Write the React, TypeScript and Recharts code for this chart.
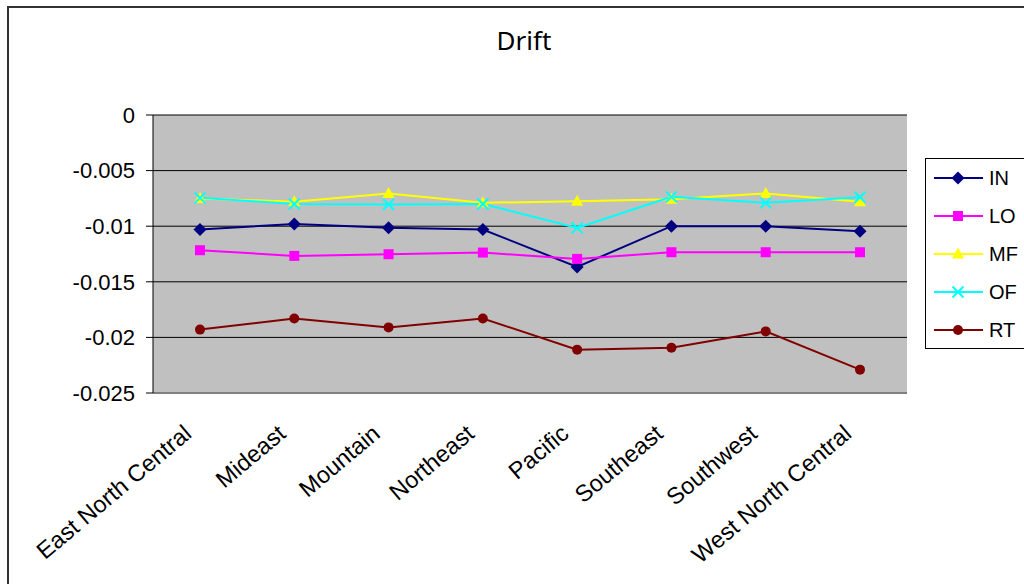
import { LineChart, Line, XAxis, YAxis, CartesianGrid } from 'recharts'

const regions = [
  'East North Central',
  'Mideast',
  'Mountain',
  'Northeast',
  'Pacific',
  'Southeast',
  'Southwest',
  'West North Central',
]

const inDrift = [-0.0103, -0.0098, -0.01015, -0.0103, -0.01366, -0.01, -0.01, -0.01045]
const loDrift = [-0.01216, -0.01267, -0.01252, -0.01237, -0.01294, -0.01234, -0.01234, -0.01234]
const mfDrift = [-0.0075, -0.0078, -0.00706, -0.0079, -0.00775, -0.00757, -0.00706, -0.0078]
const ofDrift = [-0.00745, -0.008, -0.00805, -0.008, -0.01015, -0.00736, -0.0079, -0.0074]
const rtDrift = [-0.0193, -0.0183, -0.0191, -0.0183, -0.0211, -0.02093, -0.01946, -0.0229]

const yTicks = [0, -0.005, -0.01, -0.015, -0.02, -0.025]

type Shape = 'diamond' | 'square' | 'triangle' | 'cross' | 'circle'

const series: { key: string; color: string; shape: Shape }[] = [
  { key: 'IN', color: '#000080', shape: 'diamond' },
  { key: 'LO', color: '#FF00FF', shape: 'square' },
  { key: 'MF', color: '#FFFF00', shape: 'triangle' },
  { key: 'OF', color: '#00FFFF', shape: 'cross' },
  { key: 'RT', color: '#800000', shape: 'circle' },
]

const data = regions.map((region, i) => ({
  region,
  IN: inDrift[i],
  LO: loDrift[i],
  MF: mfDrift[i],
  OF: ofDrift[i],
  RT: rtDrift[i],
}))

const FONT = '"Liberation Sans", Arial, sans-serif'

function marker(shape: Shape, color: string, cx: number, cy: number, key?: string | number) {
  switch (shape) {
    case 'diamond':
      return (
        <polygon key={key} points={`${cx},${cy - 6.5} ${cx + 6.5},${cy} ${cx},${cy + 6.5} ${cx - 6.5},${cy}`} fill={color} />
      )
    case 'square':
      return <rect key={key} x={cx - 5} y={cy - 5} width={10} height={10} fill={color} />
    case 'triangle':
      return (
        <polygon key={key} points={`${cx},${cy - 6.5} ${cx + 6},${cy + 4.5} ${cx - 6},${cy + 4.5}`} fill={color} />
      )
    case 'cross':
      return (
        <g key={key} stroke={color} strokeWidth={2}>
          <line x1={cx - 5.5} y1={cy - 5.5} x2={cx + 5.5} y2={cy + 5.5} />
          <line x1={cx - 5.5} y1={cy + 5.5} x2={cx + 5.5} y2={cy - 5.5} />
        </g>
      )
    default:
      return <circle key={key} cx={cx} cy={cy} r={5} fill={color} />
  }
}

function YTick(props: any) {
  const { x, y, payload } = props
  return (
    <text x={x} y={y} dy="0.355em" textAnchor="end" fontSize={22} fontFamily={FONT} fill="#000">
      {String(payload.value)}
    </text>
  )
}

// rotated category labels, right end tucked just under each point
function XTick(props: any) {
  const { x, y, payload } = props
  return (
    <text
      transform={`translate(${x - 7},${y + 43}) rotate(-40)`}
      textAnchor="end"
      fontSize={23.5}
      fontFamily={FONT}
      fill="#000"
    >
      {payload.value}
    </text>
  )
}

function DriftLegend() {
  return (
    <div
      style={{
        position: 'absolute',
        left: 925,
        top: 158,
        width: 110,
        height: 191,
        boxSizing: 'border-box',
        border: '1px solid #000',
        background: '#fff',
      }}
    >
      <svg width={108} height={189}>
        {series.map((s, i) => {
          const cy = 19 + i * 38
          return (
            <g key={s.key}>
              <line x1={8} x2={57} y1={cy} y2={cy} stroke={s.color} strokeWidth={2} />
              {marker(s.shape, s.color, 32, cy)}
              <text x={63} y={cy} dy="0.355em" fontSize={20} fontFamily={FONT} fill="#000">
                {s.key}
              </text>
            </g>
          )
        })}
      </svg>
    </div>
  )
}

export default function App() {
  return (
    <div style={{ position: 'relative', width: 1024, height: 584, overflow: 'hidden', background: '#fff', fontFamily: FONT }}>
      <style>{'body { margin: 0; }'}</style>
      <div
        style={{
          position: 'absolute',
          left: 7,
          top: 6,
          width: 1030,
          height: 600,
          borderLeft: '2px solid #333',
          borderTop: '2px solid #333',
        }}
      />
      <svg style={{ position: 'absolute', left: 0, top: 0 }} width={1024} height={70}>
        <text x={524} y={50} textAnchor="middle" fontSize={26} fontFamily='"Noto Sans", sans-serif' fill="#000">
          Drift
        </text>
      </svg>
      <div style={{ position: 'absolute', left: 8, top: 8 }}>
        <LineChart width={1016} height={576} data={data} margin={{ top: 107, right: 117, bottom: 0, left: 0 }}>
          <CartesianGrid vertical={false} stroke="#000" fill="#C0C0C0" fillOpacity={1} />
          <XAxis
            dataKey="region"
            interval={0}
            height={191}
            padding={{ left: 47, right: 47 }}
            axisLine={{ stroke: '#808080', strokeWidth: 2 }}
            tickLine={false}
            tickSize={0}
            tickMargin={0}
            tick={<XTick />}
          />
          <YAxis
            width={145}
            domain={[-0.025, 0]}
            ticks={yTicks}
            interval={0}
            axisLine={{ stroke: '#000' }}
            tickLine={{ stroke: '#000' }}
            tickSize={7}
            tickMargin={11}
            tick={<YTick />}
          />
          <YAxis
            yAxisId="frame"
            orientation="right"
            width={0}
            domain={[0, 1]}
            tick={false}
            tickLine={false}
            axisLine={{ stroke: '#808080', strokeWidth: 2 }}
          />
          {series.map((s) => (
            <Line
              key={s.key}
              dataKey={s.key}
              stroke={s.color}
              strokeWidth={2}
              isAnimationActive={false}
              dot={(p: any) => marker(s.shape, s.color, p.cx, p.cy, `${s.key}-${p.index}`)}
              activeDot={false}
            />
          ))}
        </LineChart>
      </div>
      <DriftLegend />
    </div>
  )
}
